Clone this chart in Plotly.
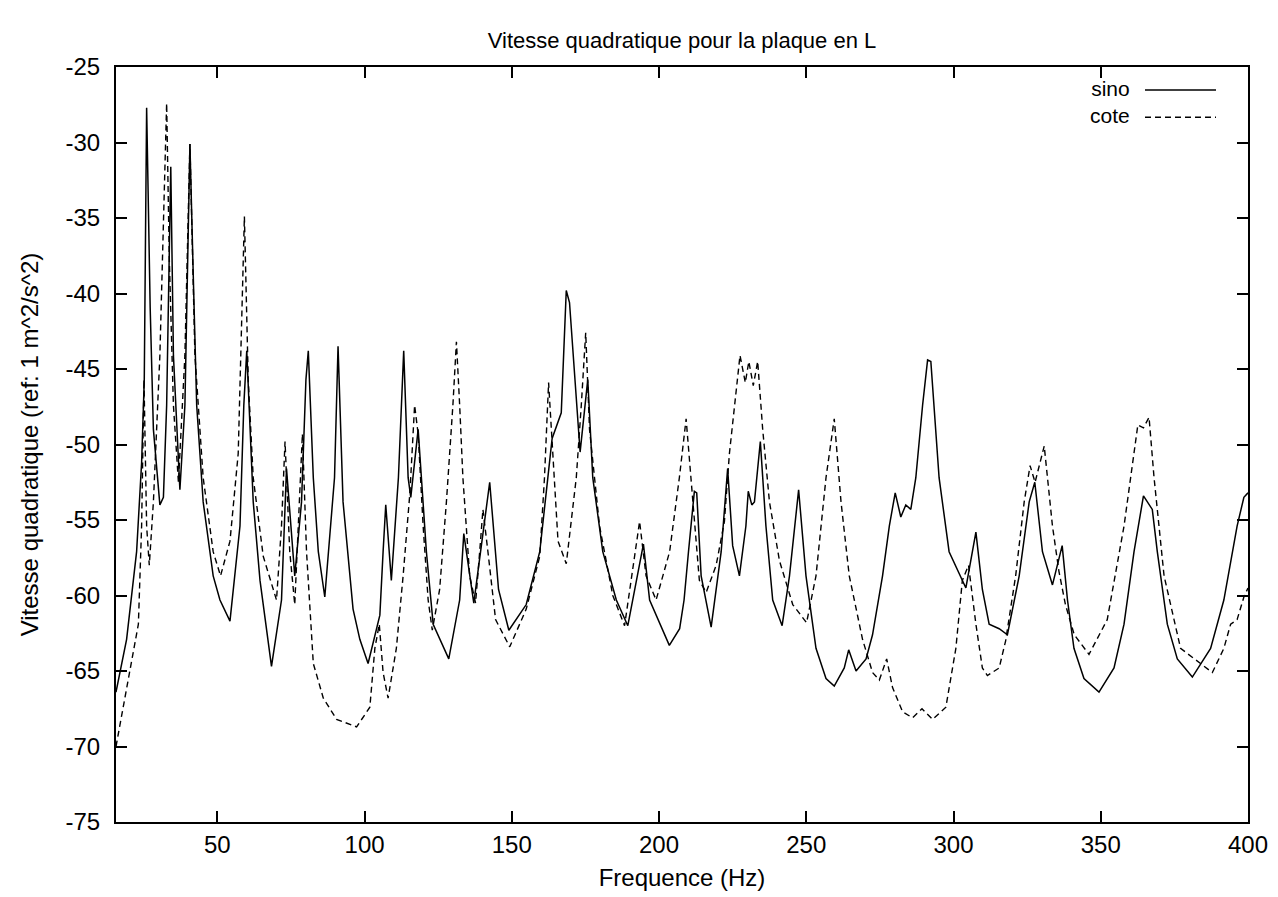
import plotly.graph_objects as go

# ---- data ----
sino_freq = [15.6, 19.2, 22.6, 24.3, 25.2, 26.0, 27.2, 28.3, 30.5, 31.7, 32.8, 34.2, 35.1, 37.3, 39.0,
             40.7, 41.9, 43.0, 45.2, 48.6, 50.9, 54.3, 57.7, 59.0, 60.0, 62.2, 64.5, 68.4, 71.8, 73.5,
             76.3, 78.6, 80.1, 80.9, 82.6, 84.3, 86.5, 89.8, 91.0, 92.7, 96.1, 98.4, 101.2, 105.2, 106.3,
             107.2, 109.1, 111.5, 113.3, 114.8, 115.7, 118.2, 121.0, 123.3, 128.6, 132.3, 133.7, 137.1,
             142.5, 144.5, 145.5, 149.0, 154.9, 159.5, 162.3, 163.7, 166.8, 168.5, 169.6, 171.9, 173.2,
             175.8, 177.5, 180.9, 185.5, 189.4, 194.7, 196.8, 203.5, 207.0, 208.5, 210.0, 211.5, 212.0,
             212.8, 214.3, 217.7, 221.1, 223.3, 225.0, 227.3, 229.5, 230.3, 231.5, 232.4, 234.4, 236.3,
             238.6, 241.8, 244.3, 247.4, 249.9, 253.3, 256.7, 259.5, 262.9, 264.4, 266.9, 270.3, 272.5,
             275.9, 278.2, 280.2, 282.1, 283.8, 285.5, 287.2, 289.5, 291.2, 292.3, 295.1, 298.5, 304.2,
             307.6, 309.8, 312.1, 315.5, 318.3, 322.3, 325.7, 327.6, 330.2, 333.6, 336.9, 338.7, 340.9,
             344.3, 349.4, 354.5, 357.9, 361.3, 364.5, 367.5, 369.2, 372.6, 376.0, 381.1, 387.3, 391.8,
             396.3, 398.6, 400.0]
sino_db = [-66.4, -62.9, -57.1, -51.2, -45.7, -27.7, -40.9, -49.0, -54.0, -53.5, -47.4, -31.6, -44.1, -53.0, -47.4,
           -30.1, -39.3, -47.4, -53.8, -58.7, -60.3, -61.7, -55.4, -47.4, -43.8, -53.8, -59.0, -64.7, -60.3, -51.6,
           -58.7, -53.8, -45.7, -43.8, -52.2, -57.1, -60.1, -52.2, -43.5, -53.8, -60.9, -62.9, -64.5, -61.3, -57.1,
           -54.0, -59.0, -52.2, -43.8, -52.2, -53.5, -49.0, -57.1, -61.9, -64.2, -60.3, -55.9, -60.5,
           -52.5, -57.1, -59.6, -62.3, -60.6, -57.1, -52.2, -49.6, -47.9, -39.8, -40.6, -47.4, -50.5,
           -45.7, -52.2, -57.1, -60.3, -62.0, -56.6, -60.3, -63.3, -62.2, -60.3, -57.1, -53.8, -53.1,
           -53.2, -58.7, -62.1, -57.1, -51.6, -56.7, -58.7, -55.4, -53.1, -54.0, -53.8, -49.8, -55.4,
           -60.3, -62.0, -58.7, -53.0, -58.7, -63.5, -65.5, -66.0, -64.8, -63.6, -65.0, -64.2, -62.6,
           -58.7, -55.4, -53.2, -54.8, -54.0, -54.3, -52.2, -47.4, -44.4, -44.5, -52.2, -57.1, -59.5,
           -55.8, -59.6, -61.9, -62.2, -62.6, -58.7, -53.8, -52.5, -57.1, -59.3, -56.7, -60.3, -63.5,
           -65.5, -66.4, -64.8, -61.9, -57.1, -53.4, -54.3, -57.1, -61.9, -64.2, -65.4, -63.5, -60.3,
           -55.4, -53.5, -53.2]

cote_freq = [15.6, 19.2, 23.2, 24.3, 25.1, 26.0, 26.9, 28.3, 30.5, 32.8, 33.7, 35.1, 36.8, 39.0, 40.7,
             42.4, 45.2, 48.6, 51.1, 54.3, 57.1, 59.2, 60.5, 62.2, 65.6, 70.1, 71.8, 73.0, 74.6, 76.3,
             78.0, 78.9, 80.3, 82.6, 86.0, 90.5, 97.3, 101.8, 103.5, 105.0, 106.3, 108.0, 110.8, 113.1,
             115.4, 117.0, 118.2, 119.9, 121.6, 123.0, 125.5, 127.8, 130.0, 131.2, 132.3, 133.4, 135.7,
             137.7, 139.1, 140.2, 141.9, 144.5, 149.3, 154.9, 159.5, 161.1, 162.5, 163.9, 165.7, 168.5,
             171.9, 173.6, 175.1, 176.4, 179.8, 184.3, 188.3, 193.4, 195.6, 199.0, 203.6, 206.9, 209.2,
             211.5, 213.7, 216.0, 219.4, 222.2, 223.9, 227.5, 229.3, 230.5, 232.0, 233.5, 235.2, 237.5,
             240.9, 245.4, 250.1, 253.3, 256.7, 259.5, 261.8, 264.6, 269.1, 272.5, 274.8, 277.3, 279.3,
             282.7, 286.1, 289.3, 292.9, 297.4, 300.8, 303.0, 305.1, 307.6, 309.8, 311.5, 315.5, 317.7,
             321.1, 324.0, 326.0, 327.7, 330.8, 333.6, 335.8, 338.0, 341.0, 346.0, 352.2, 357.9, 362.6,
             364.5, 366.4, 368.1, 371.5, 377.1, 387.9, 391.8, 394.1, 396.3, 398.6, 400.0]
cote_db = [-70.0, -66.1, -61.9, -55.4, -45.7, -55.4, -58.0, -53.8, -44.1, -27.4, -37.7, -47.4, -52.5, -44.1, -30.1,
           -44.1, -52.2, -57.1, -58.7, -56.4, -50.6, -34.9, -45.7, -52.2, -57.4, -60.3, -55.4, -49.8, -57.1, -60.6,
           -53.8, -49.3, -57.1, -64.5, -66.8, -68.2, -68.7, -67.4, -63.5, -61.9, -65.1, -66.8, -63.5, -58.7,
           -53.2, -47.4, -49.3, -55.4, -60.3, -62.3, -59.6, -53.8, -47.4, -43.2, -47.4, -52.2, -58.7,
           -60.5, -57.1, -54.3, -57.1, -61.6, -63.4, -60.9, -57.4, -52.2, -45.9, -50.6, -56.4, -57.9,
           -52.2, -47.4, -42.6, -49.0, -55.4, -60.0, -62.0, -55.1, -58.7, -60.3, -57.1, -52.2, -48.3,
           -53.8, -59.0, -59.8, -58.0, -55.1, -50.6, -44.1, -45.9, -44.5, -46.1, -44.5, -49.0, -53.8,
           -57.7, -60.6, -61.8, -58.7, -52.2, -48.3, -53.8, -58.7, -62.9, -65.1, -65.6, -64.2, -66.1,
           -67.7, -68.1, -67.5, -68.2, -67.4, -63.5, -59.0, -58.0, -61.9, -64.8, -65.3, -64.8, -63.0,
           -58.7, -53.8, -51.4, -52.5, -50.1, -55.4, -58.4, -60.6, -62.6, -63.9, -61.6, -55.4, -48.7,
           -48.9, -48.2, -52.2, -58.7, -63.5, -65.1, -63.5, -61.9, -61.6, -60.1, -59.5]

series_names = ["sino", "cote"]
x_ticks = [50, 100, 150, 200, 250, 300, 350, 400]
y_ticks = [-75, -70, -65, -60, -55, -50, -45, -40, -35, -30, -25]

title_text = "Vitesse quadratique pour la plaque en L"
x_title = "Frequence (Hz)"
y_title = "Vitesse quadratique (ref: 1 m^2/s^2)"

# ---- figure ----
FONT = "Liberation Sans, Arial, Helvetica, sans-serif"
FS = 24
W, H = 1278, 897
ML, MR, MT, MB = 108, 38, 59, 83

fig = go.Figure()
fig.add_trace(go.Scatter(x=sino_freq, y=sino_db, mode="lines", name=series_names[0],
                         line=dict(color="black", width=1.5)))
fig.add_trace(go.Scatter(x=cote_freq, y=cote_db, mode="lines", name=series_names[1],
                         line=dict(color="black", width=1.4, dash="6px,4px")))

axis_common = dict(showgrid=False, zeroline=False, showline=True, linecolor="black", linewidth=2,
                   mirror="ticks", ticks="inside", ticklen=11, tickwidth=1.5, tickcolor="black",
                   tickfont=dict(family=FONT, size=FS, color="black"))

fig.update_xaxes(range=[15.6, 400], tickvals=x_ticks, ticktext=[str(v) for v in x_ticks],
                 title=dict(text=x_title, font=dict(family=FONT, size=FS, color="black"), standoff=12),
                 **axis_common)
fig.update_yaxes(range=[-75, -25], tickvals=y_ticks, ticktext=[str(v) for v in y_ticks],
                 ticklabelstandoff=9,
                 title=dict(text=y_title, font=dict(family=FONT, size=FS, color="black"), standoff=20),
                 **axis_common)

# gnuplot-style key: text block on the left, line samples on the right
pw = W - ML - MR
ph = H - MT - MB
def px(x):
    return (x - ML) / pw
def py(y):
    return (H - MB - y) / ph

KEY_FS = 21
row_gap = KEY_FS * 1.3
row_y = [82, 82 + row_gap]
annotations = [dict(text="<br>".join(series_names), xref="paper", yref="paper",
                    x=px(1124), y=py(row_y[0] - row_gap / 2 - 1), xanchor="right", yanchor="top",
                    align="right", showarrow=False,
                    font=dict(family=FONT, size=KEY_FS, color="black"))]
shapes = []
for yy, dash in zip(row_y, [None, "6px,4px"]):
    shapes.append(dict(type="line", xref="paper", yref="paper", x0=px(1137), x1=px(1208),
                       y0=py(yy), y1=py(yy),
                       line=dict(color="black", width=1.5 if dash is None else 1.4,
                                 dash="solid" if dash is None else dash)))

fig.update_layout(
    width=W, height=H,
    margin=dict(l=ML, r=MR, t=MT, b=MB, autoexpand=False),
    paper_bgcolor="white", plot_bgcolor="white",
    showlegend=False,
    title=dict(text=title_text, x=(674) / W, xref="container", xanchor="center",
               y=1 - 32 / H, yref="container", yanchor="middle",
               font=dict(family=FONT, size=22, color="black")),
    annotations=annotations, shapes=shapes,
    font=dict(family=FONT, size=FS, color="black"),
)

fig.write_html("out.html")
